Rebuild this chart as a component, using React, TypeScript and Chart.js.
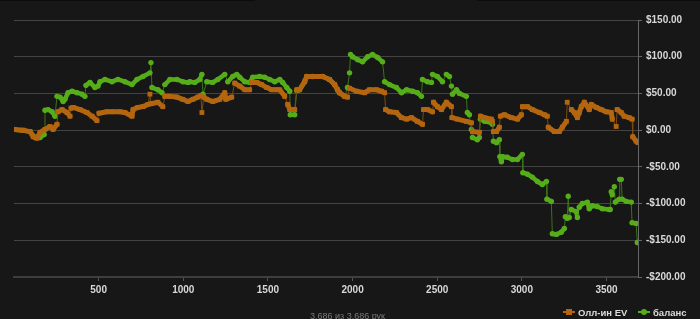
import React, { useEffect, useRef } from "react";
import { Chart, registerables } from "chart.js";

Chart.register(...registerables);

// [hand, value $]
const evPoints: number[][] = [
  [0, 1], [54, 0], [95, -2], [113, -9], [136, -11], [154, -3], [183, 1], [213, 5], [231, 1], [254, 8],
  [260, 25], [284, 28], [313, 24], [331, 19], [337, 30], [349, 31], [390, 28], [431, 24], [461, 19], [490, 13],
  [502, 23], [549, 25], [585, 25], [626, 25], [655, 24], [697, 19], [703, 28], [732, 31], [762, 32], [791, 35],
  [803, 49], [809, 36], [850, 38], [879, 32], [891, 46], [921, 46], [962, 45], [997, 42], [1027, 39], [1057, 42],
  [1086, 45], [1104, 47], [1110, 24], [1121, 45], [1139, 42], [1174, 39], [1216, 42], [1245, 51], [1251, 42], [1286, 45],
  [1304, 64], [1333, 60], [1363, 55], [1392, 55], [1404, 65], [1434, 65], [1463, 62], [1493, 58], [1522, 55], [1552, 55],
  [1570, 55], [1599, 46], [1617, 35], [1629, 28], [1658, 28], [1670, 55], [1687, 55], [1717, 66], [1729, 73], [1764, 73],
  [1823, 73], [1864, 69], [1894, 62], [1911, 55], [1923, 51], [1953, 46], [1970, 45], [1982, 57], [2023, 53], [2071, 51],
  [2100, 55], [2141, 55], [2171, 53], [2189, 51], [2195, 28], [2218, 25], [2259, 24], [2289, 17], [2319, 15], [2348, 17],
  [2383, 12], [2413, 8], [2419, 28], [2442, 28], [2472, 25], [2478, 38], [2501, 32], [2525, 28], [2554, 38], [2584, 32],
  [2587, 17], [2619, 15], [2672, 12], [2702, 10], [2708, -2], [2749, -3], [2755, 19], [2779, 17], [2820, 15], [2826, 12],
  [2832, -2], [2850, -2], [2867, 4], [2873, 19], [2897, 21], [2938, 17], [2974, 15], [2997, 21], [3003, 32], [3033, 32],
  [3062, 28], [3103, 24], [3133, 21], [3150, 19], [3156, 4], [3192, -2], [3221, -2], [3239, 4], [3263, 12], [3268, 38],
  [3292, 28], [3310, 24], [3328, 17], [3339, 24], [3351, 32], [3369, 38], [3398, 28], [3410, 35], [3439, 31], [3469, 28],
  [3498, 25], [3528, 24], [3534, 15], [3557, 5], [3563, 28], [3587, 24], [3604, 19], [3634, 17], [3651, 15], [3655, -9],
  [3675, -15], [3686, -17],
];

const balancePoints: number[][] = [
  [0, 1], [95, -2], [124, -10], [154, -10], [178, -6], [183, 27], [201, 28], [225, 25], [242, 19], [254, 46],
  [272, 45], [290, 39], [301, 42], [319, 51], [343, 53], [372, 51], [402, 49], [419, 46], [425, 61], [449, 65],
  [478, 58], [496, 60], [508, 66], [537, 69], [579, 66], [614, 69], [655, 66], [697, 62], [726, 69], [762, 73],
  [803, 78], [809, 92], [815, 58], [850, 55], [874, 51], [891, 62], [921, 69], [962, 69], [997, 66], [1027, 65],
  [1039, 66], [1068, 65], [1098, 69], [1110, 76], [1116, 49], [1139, 66], [1174, 65], [1204, 69], [1245, 76], [1263, 66],
  [1292, 73], [1316, 76], [1333, 72], [1363, 66], [1392, 65], [1410, 72], [1451, 73], [1481, 72], [1510, 69], [1540, 66],
  [1570, 69], [1587, 65], [1611, 58], [1629, 53], [1632, 21], [1658, 21], [1670, 54], [1687, 55], [1717, 66], [1729, 73],
  [1764, 73], [1823, 73], [1864, 69], [1894, 62], [1911, 55], [1923, 51], [1953, 46], [1970, 58], [1982, 78], [1988, 103],
  [2000, 100], [2030, 96], [2059, 93], [2089, 100], [2118, 103], [2148, 99], [2177, 93], [2189, 66], [2218, 62], [2259, 58],
  [2289, 51], [2319, 55], [2354, 53], [2383, 51], [2407, 46], [2413, 69], [2442, 66], [2466, 65], [2472, 76], [2501, 73],
  [2531, 66], [2554, 76], [2572, 73], [2584, 60], [2590, 49], [2614, 55], [2631, 50], [2672, 46], [2678, 24], [2690, 21],
  [2702, 1], [2708, -10], [2737, -13], [2749, -10], [2755, 15], [2779, 12], [2820, 10], [2826, 8], [2832, -15], [2850, -17],
  [2867, -13], [2870, -36], [2879, -43], [2885, -36], [2914, -37], [2944, -40], [2974, -40], [3003, -33], [3006, -58], [3033, -60],
  [3062, -64], [3092, -70], [3121, -74], [3145, -70], [3148, -94], [3174, -97], [3180, -141], [3204, -142], [3233, -139], [3251, -134],
  [3257, -118], [3268, -120], [3274, -90], [3280, -119], [3292, -108], [3322, -111], [3328, -119], [3339, -105], [3357, -100], [3387, -98],
  [3398, -107], [3416, -103], [3445, -104], [3475, -107], [3516, -108], [3522, -108], [3528, -84], [3534, -88], [3546, -77], [3552, -98],
  [3575, -94], [3578, -67], [3587, -67], [3593, -94], [3616, -97], [3646, -98], [3651, -126], [3675, -127], [3682, -153], [3686, -153],
];

const seriesNames = ["Олл-ин EV", "баланс"];
const xTickValues = [500, 1000, 1500, 2000, 2500, 3000, 3500];
const yTickValues = [-200, -150, -100, -50, 0, 50, 100, 150];
const totalHands = 3686;
const footerText = "3,686 из 3,686 рук";

const BG = "#171717";
const ORANGE = "#b3660f";
const ORANGE_DARK = "#7d4a12";
const GREEN = "#56ad1a";
const GREEN_DARK = "#3b7318";
const FONT = "'Liberation Sans', Arial, sans-serif";

function isJump(ctx: any) {
  const dy = Math.abs(ctx.p1.parsed.y - ctx.p0.parsed.y);
  const dx = Math.abs(ctx.p1.parsed.x - ctx.p0.parsed.x);
  return dy > 9 && dx < 25;
}

export default function App() {
  const ref = useRef<HTMLCanvasElement | null>(null);

  useEffect(() => {
    if (!ref.current) return;
    const mk = (pts: number[][]) => pts.map((p) => ({ x: p[0], y: p[1] }));
    const chart = new Chart(ref.current, {
      type: "line",
      data: {
        datasets: [
          {
            label: seriesNames[0],
            data: mk(evPoints),
            borderColor: ORANGE,
            backgroundColor: ORANGE,
            pointBackgroundColor: ORANGE,
            pointBorderWidth: 0,
            pointStyle: "rect",
            pointRadius: 3.4,
            borderWidth: 5,
            borderJoinStyle: "round",
            borderCapStyle: "round",
            tension: 0,
            segment: {
              borderWidth: (c: any) => (isJump(c) ? 1 : 5),
              borderColor: (c: any) => (isJump(c) ? ORANGE_DARK : ORANGE),
            },
          },
          {
            label: seriesNames[1],
            data: mk(balancePoints),
            borderColor: GREEN,
            backgroundColor: GREEN,
            pointBackgroundColor: GREEN,
            pointBorderWidth: 0,
            pointStyle: "circle",
            pointRadius: 2.7,
            borderWidth: 4.5,
            borderJoinStyle: "round",
            borderCapStyle: "round",
            tension: 0,
            segment: {
              borderWidth: (c: any) => (isJump(c) ? 1 : 4.5),
              borderColor: (c: any) => (isJump(c) ? GREEN_DARK : GREEN),
            },
          },
        ],
      },
      options: {
        animation: false,
        responsive: true,
        maintainAspectRatio: false,
        layout: { padding: { left: 14, top: 20, right: 0, bottom: 0 } },
        plugins: { legend: { display: false }, tooltip: { enabled: false } },
        events: [],
        scales: {
          x: {
            type: "linear",
            min: 0,
            max: totalHands,
            afterBuildTicks: (s: any) => {
              s.ticks = xTickValues.map((v) => ({ value: v }));
            },
            afterFit: (s: any) => {
              s.height = 42;
            },
            ticks: {
              color: "#d8d8d8",
              font: { family: FONT, size: 10, weight: "bold" },
              padding: 3,
              maxRotation: 0,
              autoSkip: false,
              callback: (v: any) => String(v),
            },
            grid: {
              drawOnChartArea: false,
              drawTicks: true,
              tickLength: 4,
              tickColor: "#555",
            },
            border: { display: true, color: "#3e3e3e", width: 2 },
          },
          y: {
            type: "linear",
            position: "right",
            min: -200,
            max: 150,
            afterBuildTicks: (s: any) => {
              s.ticks = yTickValues.map((v) => ({ value: v }));
            },
            afterFit: (s: any) => {
              s.width = 62;
            },
            ticks: {
              color: "#d8d8d8",
              font: { family: FONT, size: 10, weight: "bold" },
              padding: 4,
              autoSkip: false,
              callback: (v: any) =>
                (v < 0 ? "-$" : "$") + Math.abs(Number(v)).toFixed(2),
            },
            grid: {
              color: "#434343",
              lineWidth: 1,
              drawTicks: true,
              tickLength: 4,
              tickColor: "#666",
            },
            border: { display: true, color: "#666", width: 1 },
          },
        },
      },
    });
    return () => chart.destroy();
  }, []);

  const legendItem = (color: string, square: boolean, label: string, left: number) => (
    <div
      style={{
        position: "absolute",
        left,
        top: 305,
        height: 14,
        display: "flex",
        alignItems: "center",
        fontFamily: FONT,
        fontWeight: "bold",
        fontSize: 9.5,
        color: "#dcdcdc",
        whiteSpace: "nowrap",
      }}
    >
      <span style={{ position: "relative", width: 12, height: 14, marginRight: 3, display: "inline-block" }}>
        <span style={{ position: "absolute", left: 0, top: 6, width: 12, height: 2, background: color }} />
        <span
          style={{
            position: "absolute",
            left: 3,
            top: 4,
            width: 6,
            height: 6,
            background: color,
            borderRadius: square ? 0 : 3,
          }}
        />
      </span>
      {label}
    </div>
  );

  return (
    <div
      style={{
        position: "fixed",
        left: 0,
        top: 0,
        width: 700,
        height: 319,
        background: BG,
        overflow: "hidden",
      }}
    >
      <div style={{ position: "absolute", left: 0, top: 0, width: 255, height: 1, background: "#0c0c0c" }} />
      <div style={{ position: "absolute", left: 477, top: 0, width: 223, height: 1, background: "#0c0c0c" }} />
      <div style={{ position: "absolute", left: 0, top: 0, width: 700, height: 319 }}>
        <canvas ref={ref} />
      </div>
      <div
        style={{
          position: "absolute",
          left: 310,
          top: 310,
          fontFamily: FONT,
          fontSize: 9,
          lineHeight: "13px",
          color: "#7a7a7a",
          whiteSpace: "nowrap",
        }}
      >
        {footerText}
      </div>
      {legendItem(ORANGE, true, seriesNames[0], 563)}
      {legendItem(GREEN, false, seriesNames[1], 638)}
    </div>
  );
}
